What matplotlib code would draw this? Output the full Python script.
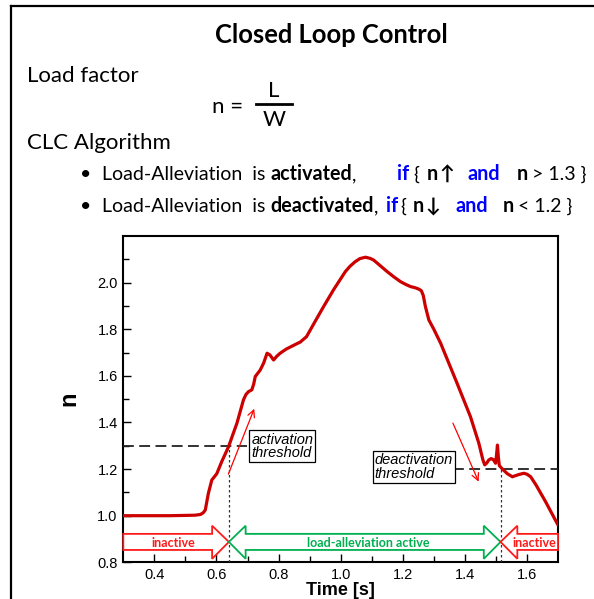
import matplotlib
matplotlib.use("Agg")
import matplotlib.pyplot as plt
from matplotlib.patches import Polygon
from matplotlib.lines import Line2D

# ---- load factor time history ----
time_s = [0.300, 0.450, 0.530, 0.548, 0.557, 0.564, 0.574, 0.585, 0.601, 0.617,
          0.639, 0.652, 0.666, 0.687, 0.695, 0.703, 0.714, 0.720, 0.725, 0.741,
          0.752, 0.763, 0.772, 0.784, 0.795, 0.805, 0.825, 0.850, 0.870, 0.890,
          0.918, 0.945, 0.977, 1.015, 1.030, 1.047, 1.062, 1.080, 1.095, 1.106,
          1.128, 1.150, 1.172, 1.193, 1.210, 1.225, 1.240, 1.252, 1.260, 1.266,
          1.273, 1.284, 1.300, 1.322, 1.375, 1.418, 1.445, 1.458, 1.464, 1.470,
          1.477, 1.485, 1.492, 1.499, 1.502, 1.505, 1.508, 1.511, 1.521, 1.537,
          1.553, 1.575, 1.590, 1.600, 1.612, 1.630, 1.660, 1.700]
load_factor = [1.000, 1.000, 1.002, 1.005, 1.012, 1.024, 1.096, 1.153, 1.180, 1.232,
               1.296, 1.345, 1.397, 1.497, 1.520, 1.532, 1.540, 1.565, 1.597, 1.625,
               1.655, 1.697, 1.690, 1.668, 1.685, 1.697, 1.715, 1.732, 1.745, 1.768,
               1.834, 1.897, 1.969, 2.047, 2.070, 2.090, 2.103, 2.109, 2.104, 2.097,
               2.072, 2.047, 2.024, 2.004, 1.992, 1.983, 1.978, 1.972, 1.965, 1.945,
               1.897, 1.840, 1.800, 1.740, 1.568, 1.425, 1.311, 1.240, 1.218, 1.225,
               1.239, 1.245, 1.240, 1.225, 1.260, 1.303, 1.250, 1.215, 1.200, 1.180,
               1.167, 1.177, 1.182, 1.178, 1.167, 1.130, 1.060, 0.960]

activation_threshold = 1.3
deactivation_threshold = 1.2
t_activate = 0.64
t_deactivate = 1.515

x_ticks = [0.4, 0.6, 0.8, 1.0, 1.2, 1.4, 1.6]
y_ticks = [0.8, 1.0, 1.2, 1.4, 1.6, 1.8, 2.0]

W, H = 594, 599
fig = plt.figure(figsize=(W / 100, H / 100), dpi=100)

TXT = ["Lato", "DejaVu Sans"]


def px(x, y):
    """pixel position (from top-left) -> figure fraction"""
    return x / W, 1 - y / H


# outer frame of the slide
fig.add_artist(Line2D([11 / W, 11 / W], [0, 1 - 5.7 / H], color="black", lw=1.6,
                      transform=fig.transFigure))
fig.add_artist(Line2D([11 / W, 1.0], [1 - 5.7 / H, 1 - 5.7 / H], color="black", lw=1.6,
                      transform=fig.transFigure))

# ---- header text ----
fig.text(*px(331, 43), "Closed Loop Control", family=TXT, fontsize=18.4, weight="bold",
         ha="center", va="baseline")
fig.text(*px(27, 82), "Load factor", family=TXT, fontsize=16, va="baseline")
fig.text(*px(212, 113), "n =", family=TXT, fontsize=16, va="baseline")
fig.text(*px(274, 97), "L", family=TXT, fontsize=16, ha="center", va="baseline")
fig.add_artist(Line2D([256 / W, 292 / W], [1 - 104 / H, 1 - 104 / H], color="black",
                      lw=2.0, transform=fig.transFigure))
fig.text(*px(274, 126), "W", family=TXT, fontsize=16, ha="center", va="baseline")
fig.text(*px(27, 149), "CLC Algorithm", family=TXT, fontsize=16, va="baseline")

BLUE = "#0000ff"
rows = [
    (180, [(80, "\u2022", "normal", "black"),
           (102, "Load-Alleviation  is ", "normal", "black"),
           (None, "activated", "bold", "black"),
           (None, ",", "normal", "black"),
           (397, "if", "bold", BLUE),
           (413, "{", "normal", "black"),
           (427, "n", "bold", "black"),
           (439, "\u2191", "bold", "black"),
           (468, "and", "bold", BLUE),
           (517, "n", "bold", "black"),
           (532, "> 1.3 }", "normal", "black")]),
    (212, [(80, "\u2022", "normal", "black"),
           (102, "Load-Alleviation  is ", "normal", "black"),
           (None, "deactivated", "bold", "black"),
           (None, ",", "normal", "black"),
           (386, "if", "bold", BLUE),
           (400, "{", "normal", "black"),
           (413, "n", "bold", "black"),
           (425, "\u2193", "bold", "black"),
           (455, "and", "bold", BLUE),
           (503, "n", "bold", "black"),
           (518, "< 1.2 }", "normal", "black")]),
]

renderer = fig.canvas.get_renderer()
for base_y, pieces in rows:
    cursor = None
    for x0, s, wt, col in pieces:
        x = x0 if x0 is not None else cursor
        size = 14.2 if wt == "bold" else 14
        t = fig.text(*px(x, base_y), s, family=TXT, fontsize=size, weight=wt,
                     color=col, va="baseline")
        bb = t.get_window_extent(renderer)
        cursor = x + bb.width

# ---- plot ----
ax = fig.add_axes([123.3 / W, 1 - 562.3 / H, (558 - 123.3) / W, (562.3 - 236) / H])
RED = "#cc0000"
ax.plot(time_s, load_factor, color=RED, lw=2.3, solid_capstyle="round",
        solid_joinstyle="round", zorder=5)

ax.set_xlim(0.3, 1.7)
ax.set_ylim(0.8, 2.2)
ax.set_xticks(x_ticks)
ax.set_yticks(y_ticks)
ax.set_xticks([0.5, 0.7, 0.9, 1.1, 1.3, 1.5], minor=True)
ax.set_yticks([0.9, 1.1, 1.3, 1.5, 1.7, 1.9, 2.1], minor=True)
ax.set_xticklabels([f"{v:.1f}" for v in x_ticks])
ax.set_yticklabels([f"{v:.1f}" for v in y_ticks])
for lab in ax.get_xticklabels() + ax.get_yticklabels():
    lab.set_family("Liberation Sans")
    lab.set_fontsize(10.5)
ax.tick_params(which="both", direction="in", width=1.0, top=False, right=False)
ax.tick_params(which="major", length=5.5, pad=4)
ax.tick_params(which="minor", length=4)
for sp in ax.spines.values():
    sp.set_linewidth(1.5)

ax.set_ylabel("n", family="Liberation Sans", fontsize=17, weight="bold", labelpad=12)
ax.set_xlabel("Time [s]", family="Liberation Sans", fontsize=13, weight="bold",
              labelpad=0)

# thresholds
ax.plot([0.3, 0.698], [activation_threshold] * 2, color="#222222", lw=1.3,
        dashes=(6, 3), zorder=3)
ax.plot([1.362, 1.7], [deactivation_threshold] * 2, color="#222222", lw=1.3,
        dashes=(6, 3), zorder=3)
ax.plot([t_activate] * 2, [0.8, activation_threshold], color="#333333", lw=0.9,
        ls=(0, (2, 2)), zorder=4)
ax.plot([t_deactivate] * 2, [0.8, deactivation_threshold], color="#333333", lw=0.9,
        ls=(0, (2, 2)), zorder=4)

box = dict(boxstyle="square,pad=0.15", fc="white", ec="black", lw=0.9)
ax.text(0.712, 1.298, "activation\nthreshold", family="Liberation Sans",
        style="italic", fontsize=10.5, va="center", ha="left", linespacing=0.95,
        bbox=box, zorder=6)
ax.text(1.110, 1.209, "deactivation\nthreshold", family="Liberation Sans",
        style="italic", fontsize=10.5, va="center", ha="left", linespacing=0.95,
        bbox=box, zorder=6)

# trend arrows
ax.annotate("", xy=(0.725, 1.47), xytext=(0.635, 1.167),
            arrowprops=dict(arrowstyle="->,head_length=0.5,head_width=0.25",
                            color="red", lw=0.9), zorder=6)
ax.annotate("", xy=(1.448, 1.135), xytext=(1.358, 1.408),
            arrowprops=dict(arrowstyle="->,head_length=0.5,head_width=0.25",
                            color="red", lw=0.9), zorder=6)

# state band arrows along the bottom
s_lo, s_hi = 0.853, 0.922
h_lo, h_hi = 0.815, 0.957
hl = 0.054
GREEN = "#00b050"
RED2 = "#ff1a1a"
mid = (s_lo + s_hi) / 2
inactive_left = [(0.3, s_lo), (0.3, s_hi), (t_activate - hl, s_hi), (t_activate - hl, h_hi),
                 (t_activate, mid), (t_activate - hl, h_lo), (t_activate - hl, s_lo)]
active = [(t_activate, mid), (t_activate + hl, h_hi), (t_activate + hl, s_hi),
          (t_deactivate - hl, s_hi), (t_deactivate - hl, h_hi),
          (t_deactivate, mid), (t_deactivate - hl, h_lo),
          (t_deactivate - hl, s_lo), (t_activate + hl, s_lo), (t_activate + hl, h_lo)]
inactive_right = [(1.7, s_lo), (1.7, s_hi), (t_deactivate + hl, s_hi),
                  (t_deactivate + hl, h_hi), (t_deactivate, mid),
                  (t_deactivate + hl, h_lo), (t_deactivate + hl, s_lo)]
for pts, col in [(inactive_left, RED2), (active, GREEN), (inactive_right, RED2)]:
    ax.add_patch(Polygon(pts, closed=True, fc="white", ec=col, lw=1.3, zorder=4,
                         clip_on=False))

ax.text(0.46, mid - 0.003, "inactive", family=TXT,
        weight="bold", fontsize=9, color=RED2, ha="center", va="center", zorder=6)
ax.text(1.09, mid - 0.003, "load-alleviation active",
        family=TXT, weight="bold", fontsize=9, color=GREEN, ha="center",
        va="center", zorder=6)
ax.text(1.625, mid - 0.003, "inactive", family=TXT,
        weight="bold", fontsize=9, color=RED2, ha="center", va="center", zorder=6)

fig.savefig("out.png", dpi=100)
